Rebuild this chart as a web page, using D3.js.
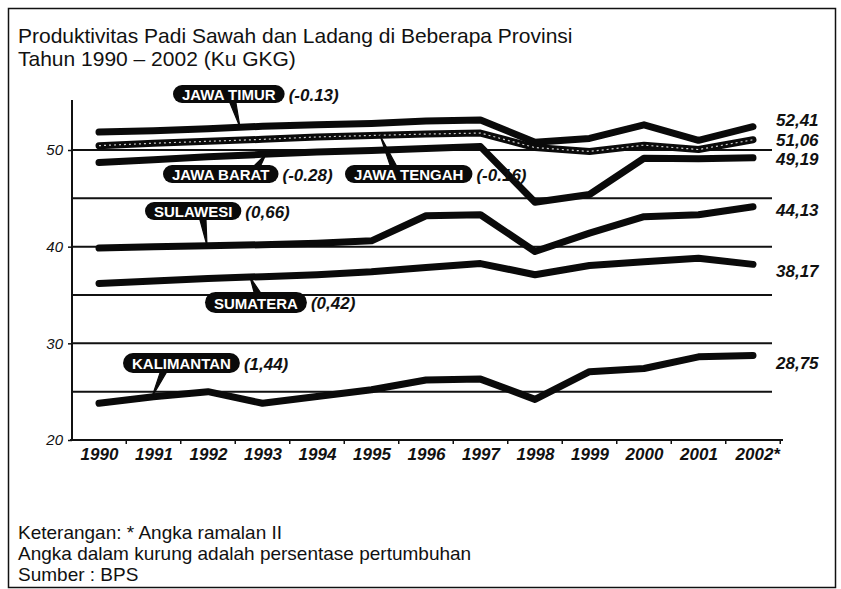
<!DOCTYPE html>
<html><head><meta charset="utf-8">
<script src="https://cdn.jsdelivr.net/npm/d3@7"></script>
<style>body{margin:0;background:#fff} svg{display:block}</style>
</head><body>
<svg id="c" width="841" height="589"></svg>
<script>
// ---- data ----
const years = [1990,1991,1992,1993,1994,1995,1996,1997,1998,1999,2000,2001,2002];
const yearLabels = ["1990","1991","1992","1993","1994","1995","1996","1997","1998","1999","2000","2001","2002*"];
const jawaTimur  = [51.85,52.0,52.2,52.45,52.6,52.75,53.0,53.1,50.8,51.2,52.6,51.0,52.41];
const jawaTengah = [50.45,50.7,50.9,51.1,51.35,51.5,51.65,51.75,50.25,49.85,50.5,50.05,51.06];
const jawaBarat  = [48.7,49.0,49.3,49.55,49.8,49.95,50.15,50.35,44.6,45.4,49.15,49.1,49.19];
const sulawesi   = [39.85,40.0,40.1,40.2,40.35,40.6,43.2,43.3,39.5,41.4,43.1,43.3,44.13];
const sumatera   = [36.2,36.45,36.7,36.9,37.1,37.4,37.85,38.25,37.1,38.05,38.45,38.8,38.17];
const kalimantan = [23.8,24.48,25.0,23.8,24.5,25.2,26.2,26.3,24.2,27.07,27.4,28.6,28.75];
const seriesNames  = ["JAWA TIMUR","JAWA TENGAH","JAWA BARAT","SULAWESI","SUMATERA","KALIMANTAN"];
const growthLabels = ["(-0.13)","(-0.16)","(-0.28)","(0,66)","(0,42)","(1,44)"];
const endLabels    = ["52,41","51,06","49,19","44,13","38,17","28,75"];
const yTickValues  = [20,30,40,50];
const gridValues   = [25,30,35,40,45,50];
const titleLines   = ["Produktivitas Padi Sawah dan Ladang di Beberapa Provinsi","Tahun 1990 \u2013 2002 (Ku GKG)"];
const noteLines    = ["Keterangan:  * Angka ramalan II","Angka dalam kurung adalah persentase pertumbuhan","Sumber : BPS"];

const allSeries = [jawaTimur, jawaTengah, jawaBarat, sulawesi, sumatera, kalimantan];

// ---- layout (positions / styles only) ----
const pillLayout = [
  {x:173, y:85,  h:18, sx:233, sy:103, px:240},
  {x:345, y:165, h:18, sx:393, sy:165, px:380},
  {x:163, y:165, h:18, sx:258, sy:165, px:266},
  {x:145, y:202, h:18, sx:203, sy:220, px:207},
  {x:205, y:292, h:21, sx:257, sy:292, px:250},
  {x:123, y:353, h:20, sx:163, sy:373, px:152}
];
const endDy = [-6, 1, 2, 4, 7, 8];

const svg = d3.select("#c");
const x = d3.scaleLinear().domain([1990, 2002]).range([99, 753]);
const y = d3.scaleLinear().domain([20, 50]).range([440, 150]);
const FONT = "'Liberation Sans', Arial, Helvetica, sans-serif";

// frame
svg.append("rect").attr("x", 8.5).attr("y", 8.5).attr("width", 827).attr("height", 579)
  .attr("fill", "none").attr("stroke", "#111").attr("stroke-width", 1.5);

// title
svg.append("g").selectAll("text").data(titleLines).join("text")
  .attr("x", 18).attr("y", (d, i) => 43 + i * 23)
  .attr("font-family", FONT).attr("font-size", 21).attr("fill", "#111")
  .text(d => d);

// grid lines
svg.append("g").selectAll("line").data(gridValues).join("line")
  .attr("x1", 72).attr("x2", 772).attr("y1", d => y(d)).attr("y2", d => y(d))
  .attr("stroke", "#111").attr("stroke-width", 2);

// y axis
const yAxis = d3.axisLeft(y).tickValues(yTickValues).tickSize(4).tickFormat(d3.format("d"));
const gy = svg.append("g").attr("transform", "translate(72,0)").call(yAxis);
gy.select(".domain").attr("d", "M0,100V440").attr("stroke", "#111").attr("stroke-width", 2);
gy.selectAll(".tick line").attr("stroke", "#111").attr("stroke-width", 1.5);
gy.selectAll(".tick text").attr("x", -9).attr("font-family", FONT).attr("font-size", 15)
  .attr("font-style", "italic").attr("fill", "#111");

// x axis
const xAxis = d3.axisBottom(x).tickValues(years).tickSize(0).tickFormat((d, i) => yearLabels[i]);
const gx = svg.append("g").attr("transform", "translate(0,440)").call(xAxis);
gx.select(".domain").attr("d", "M70,0H783").attr("stroke", "#111").attr("stroke-width", 2);
gx.selectAll(".tick text").attr("y", 8).attr("dy", "0.71em").attr("font-family", FONT)
  .attr("font-size", 17).attr("font-style", "italic").attr("font-weight", "bold").attr("fill", "#111");
gx.selectAll(".tick text").filter((d, i) => i === years.length - 1).attr("dx", "0.25em");
// small separator ticks between years
svg.append("g").selectAll("line").data(years).join("line")
  .attr("x1", d => x(d + 0.5)).attr("x2", d => x(d + 0.5))
  .attr("y1", 440).attr("y2", 444).attr("stroke", "#111").attr("stroke-width", 1.5);

// series lines
const line = d3.line().x((d, i) => x(years[i])).y(d => y(d)).curve(d3.curveLinear);
svg.append("g").selectAll("path").data(allSeries).join("path")
  .attr("d", line).attr("fill", "none").attr("stroke", "#0a0a0a")
  .attr("stroke-width", 7).attr("stroke-linecap", "round").attr("stroke-linejoin", "round");
// lighter textured centre on Jawa Tengah
svg.append("path").datum(jawaTengah).attr("d", line).attr("fill", "none")
  .attr("stroke", "#fff").attr("stroke-width", 1.2).attr("stroke-dasharray", "2 3").attr("opacity", 0.8);

// value interpolation helper for pointers
function valueAt(series, px) {
  const yr = x.invert(px);
  const i = Math.min(years.length - 2, Math.max(0, Math.floor(yr - 1990)));
  const t = yr - years[i];
  return series[i] + (series[i + 1] - series[i]) * t;
}

// annotations: pills + pointers + growth text
const ann = svg.append("g");
seriesNames.forEach((name, i) => {
  const L = pillLayout[i];
  const g = ann.append("g");
  const txt = g.append("text").attr("font-family", FONT).attr("font-size", 15)
    .attr("font-weight", "bold").attr("fill", "#fff").text(name);
  const w = txt.node().getComputedTextLength();
  const pw = w + 18;
  const ex = L.px, ey = y(valueAt(allSeries[i], L.px));
  g.insert("path", "text")
    .attr("d", `M${L.sx - 3},${L.sy}L${ex},${ey}L${L.sx + 3},${L.sy}Z`)
    .attr("fill", "#0a0a0a").attr("stroke", "#0a0a0a").attr("stroke-width", 1.2);
  g.insert("rect", "text").attr("x", L.x).attr("y", L.y).attr("width", pw).attr("height", L.h)
    .attr("rx", L.h / 2).attr("fill", "#0a0a0a");
  txt.attr("x", L.x + pw / 2).attr("y", L.y + L.h / 2 + 0.5).attr("text-anchor", "middle")
    .attr("dominant-baseline", "central");
  g.append("text").attr("x", L.x + pw + 4).attr("y", L.y + L.h / 2 + 1)
    .attr("dominant-baseline", "central").attr("font-family", FONT).attr("font-size", 17)
    .attr("font-style", "italic").attr("font-weight", "bold").attr("fill", "#111").text(growthLabels[i]);
});

// end value labels
svg.append("g").selectAll("text").data(allSeries).join("text")
  .attr("x", 776).attr("y", (d, i) => y(d[d.length - 1]) + endDy[i])
  .attr("dominant-baseline", "central").attr("font-family", FONT).attr("font-size", 17)
  .attr("font-weight", "bold").attr("font-style", "italic").attr("fill", "#111")
  .text((d, i) => endLabels[i]);

// notes
svg.append("g").selectAll("text").data(noteLines).join("text")
  .attr("x", 18).attr("y", (d, i) => 539 + i * 21)
  .attr("font-family", FONT).attr("font-size", 19).attr("fill", "#111")
  .text(d => d);
</script>
</body></html>
